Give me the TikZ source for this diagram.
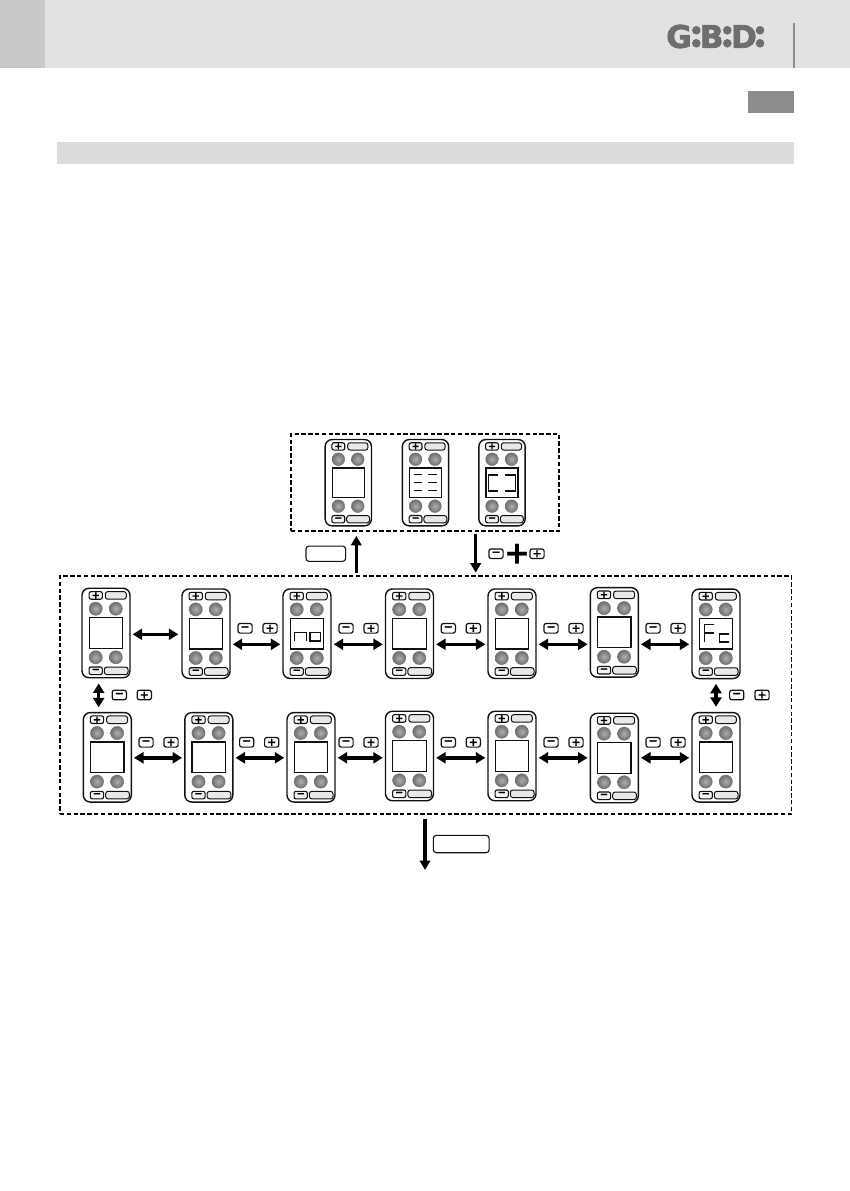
\documentclass[tikz,border=0pt]{standalone}
\usepackage{fontspec}
\usetikzlibrary{arrows.meta}
\newfontfamily\keyfont{DejaVu Sans}[BoldFeatures={FakeBold=1}]
\newfontfamily\logofont{DejaVu Sans}[BoldFeatures={FakeBold=2.5}]
\definecolor{bandgray}{HTML}{E2E2E2}
\definecolor{cornergray}{HTML}{C9C9C9}
\definecolor{tabgray}{HTML}{8C8C8C}
\definecolor{bargray}{HTML}{DCDCDC}
\definecolor{logogray}{HTML}{6E6E6E}
\definecolor{ink}{HTML}{111111}
\tikzset{
  remotebody/.style={draw=ink,line width=1.4pt,rounded corners=7pt,fill=white,minimum width=48pt,minimum height=89.5pt,inner sep=0pt},
  screenbox/.style={draw=ink,line width=1.3pt,fill=white,minimum width=33.4pt,minimum height=30.6pt,inner sep=0pt},
  widekey/.style={draw=ink,line width=1pt,rounded corners=2.5pt,fill=black!9,minimum height=7.6pt,inner sep=0pt},
  smallkey/.style={draw=ink,line width=1.1pt,rounded corners=2pt,fill=black!5,minimum width=13.3pt,minimum height=7.6pt,inner sep=0pt,font=\keyfont\bfseries\fontsize{10}{10}\selectfont},
  freekey/.style={draw=ink,line width=1.2pt,rounded corners=2.2pt,fill=white,minimum width=14.2pt,minimum height=9.6pt,inner sep=0pt,font=\keyfont\bfseries\fontsize{11}{11}\selectfont},
  blankkey/.style={draw=ink,line width=1.1pt,rounded corners=3pt,fill=white,inner sep=0pt},
  led/.style={inner color=black!32,outer color=black!56,draw=black!56,line width=.4pt},
  dashbox/.style={draw=black,line width=1.9pt,dash pattern=on 4.4pt off 2.4pt,inner sep=0pt},
  dblarrow/.style={line width=3.5pt,{Triangle[width=11pt,length=9.5pt]}-{Triangle[width=11pt,length=9.5pt]}},
  onearrow/.style={line width=3.5pt,-{Triangle[width=10.5pt,length=9.5pt]}},
  segment/.style={draw=ink,line width=1.5pt},
  logotext/.style={text=logogray,inner sep=0pt,font=\logofont\bfseries\fontsize{31}{31}\selectfont},
  bigplus/.style={inner sep=0pt,font=\keyfont\bfseries\fontsize{31}{31}\selectfont},
}
% #1 name, #2 x, #3 y, #4 scale, #5 extra drawing on the screen
\newcommand{\remote}[5]{%
  \begin{scope}[shift={(#2,#3)},scale=#4,every node/.append style={transform shape}]
    \node[remotebody] (#1) at (0,0) {};
    \node[smallkey] (#1-plus) at (-10.3,-37.6) {+};
    \node[widekey,minimum width=21pt] (#1-top) at (9.8,-37.6) {};
    \node[smallkey] (#1-minus) at (-10.3,37.8) {−};
    \node[widekey,minimum width=23.7pt] (#1-bot) at (10.2,37.8) {};
    \shade[led] (-10.3,-24.3) circle (6.6);
    \shade[led] (9.8,-24.3) circle (6.6);
    \shade[led] (-10.3,24.3) circle (6.6);
    \shade[led] (9.8,24.3) circle (6.6);
    \node[screenbox] (#1-screen) at (0,0) {};
    #5
  \end{scope}}
% free key pair
\newcommand{\keypair}[4]{%
  \node[freekey] (#1-m) at (#2,#4) {−};
  \node[freekey] (#1-p) at (#3,#4) {+};}
\begin{document}
\begin{tikzpicture}[x=1pt,y=-1pt]
  \useasboundingbox (0,0) rectangle (850,1191);
  \fill[white] (0,0) rectangle (850,1191);
  % header
  \fill[bandgray] (0,0) rectangle (850,68);
  \fill[cornergray] (0,0) rectangle (45,68);
  \draw[tabgray,line width=1.5pt] (794,23) -- (794,68);
  \fill[tabgray] (748,91) rectangle (794,113);
  \fill[bargray] (57,142) rectangle (794,164);
  % logo
  \node[logotext] (logoG) at (679,36.5) {G};
  \node[logotext] (logoB) at (711.7,36.5) {B};
  \node[logotext] (logoD) at (744,36.5) {D};
  \foreach \lx in {696.3,727.3,760}{
    \fill[logogray] (\lx,30.3) circle (4.3);
    \fill[logogray] (\lx,43.3) circle (4.3);
  }
  % dashed frames
  \node[dashbox,minimum width=268.3pt,minimum height=97pt] (topframe) at (425.2,482.5) {};
  \node[dashbox,minimum width=731.5pt,minimum height=238pt] (bigframe) at (425.75,695) {};
  % top remotes
  \remote{ta}{348.3}{482.7}{.965}{}
  \remote{tb}{425.5}{482.7}{.965}{
    \foreach \dy in {-8.7,-.4,7.9}{
      \draw[segment] (-12,\dy) -- (-3.3,\dy);
      \draw[segment] (3,\dy) -- (12,\dy);
    }}
  \remote{tc}{502}{482.7}{.965}{
    \draw[segment,line width=1.9pt] (-3.8,-8.2) -- (-14,-8.2) -- (-14,8.3) -- (-3.8,8.3);
    \draw[segment,line width=1.9pt] (3.2,-8.2) -- (14,-8.2) -- (14,8.3) -- (3.2,8.3);}
  % first row
  \remote{a1}{106}{633}{1}{}
  \remote{a2}{206}{633.7}{1}{}
  \remote{a3}{307}{633.7}{1}{
    \draw[segment] (-12.3,7.3) -- (-12.3,-1.4) -- (-.3,-1.4) -- (-.3,7.3);
    \draw[segment] (3,-1.4) rectangle (13.7,7.3);}
  \remote{a4}{409.5}{633.7}{1}{}
  \remote{a5}{512}{633.7}{1}{}
  \remote{a6}{614.3}{632.4}{1}{}
  \remote{a7}{716}{633.8}{1}{
    \draw[segment] (-1.7,-9.5) -- (-11.3,-9.5) -- (-11.3,7.9);
    \draw[segment] (-11.3,-.8) -- (-1.7,-.8);
    \draw[segment] (13.3,0) -- (3.3,0) -- (3.3,8.2) -- (13.3,8.2);}
  % second row
  \remote{b1}{107.3}{757.3}{1}{}
  \remote{b2}{208.8}{757.3}{1}{}
  \remote{b3}{311}{757.3}{1}{}
  \remote{b4}{409.5}{756}{1}{}
  \remote{b5}{512}{756}{1}{}
  \remote{b6}{614.3}{758}{1}{}
  \remote{b7}{716}{757.3}{1}{}
  % horizontal arrow levels
  \coordinate (levelzero) at (0,634.3);
  \coordinate (levelA) at (0,644.3);
  \coordinate (levelB) at (0,757.8);
  % first row arrows
  \draw[dblarrow,shorten <=2pt,shorten >=3pt] (a1.east |- levelzero) -- (a2.west |- levelzero);
  \foreach \pa/\pb in {a2/a3,a3/a4,a4/a5,a5/a6,a6/a7}
    \draw[dblarrow,shorten <=2pt,shorten >=2pt] (\pa.east |- levelA) -- (\pb.west |- levelA);
  % second row arrows
  \foreach \pa/\pb in {b1/b2,b2/b3,b3/b4,b4/b5,b5/b6,b6/b7}
    \draw[dblarrow,shorten <=2pt,shorten >=2pt] (\pa.east |- levelB) -- (\pb.west |- levelB);
  % vertical arrows
  \coordinate (vleft) at (98.7,0);
  \draw[dblarrow,shorten <=5pt,shorten >=4.5pt] (a1.south -| vleft) -- (b1.north -| vleft);
  \draw[dblarrow,shorten <=4.5pt,shorten >=5pt] (a7.south) -- (b7.north);
  % free keys
  \keypair{ka2}{245}{270}{628.3}
  \keypair{ka3}{346}{371}{628.3}
  \keypair{ka4}{448.3}{473.3}{628.3}
  \keypair{ka5}{551}{576}{628.3}
  \keypair{ka6}{653}{678}{628.3}
  \keypair{kb1}{146}{171}{742.3}
  \keypair{kb2}{246.7}{271.7}{742.3}
  \keypair{kb3}{346}{371}{742.3}
  \keypair{kb4}{448.3}{473.3}{742.3}
  \keypair{kb5}{551}{576}{742.3}
  \keypair{kb6}{653}{678}{742.3}
  \keypair{kvl}{119.3}{144.3}{695}
  \keypair{kvr}{736.7}{762}{695}
  % arrows between frames
  \coordinate (upx) at (356.3,0);
  \coordinate (downx) at (475.7,0);
  \coordinate (exit) at (425,870);
  \draw[onearrow,shorten <=2.5pt,shorten >=4pt] (bigframe.north -| upx) -- (topframe.south -| upx);
  \draw[onearrow,shorten <=2pt,shorten >=2.5pt] (topframe.south -| downx) -- (bigframe.north -| downx);
  \draw[onearrow,shorten <=4pt] (bigframe.south -| exit) -- (exit);
  \node[blankkey,minimum width=39.7pt,minimum height=15.3pt] (enterkey) at (325.8,553.7) {};
  \node[blankkey,minimum width=55.7pt,minimum height=17.4pt] (exitkey) at (461.2,844) {};
  \node[freekey] (comboM) at (496,553.7) {−};
  \node[bigplus] (comboPlus) at (517,553.7) {+};
  \node[freekey] (comboP) at (537,553.7) {+};
\end{tikzpicture}
\end{document}
